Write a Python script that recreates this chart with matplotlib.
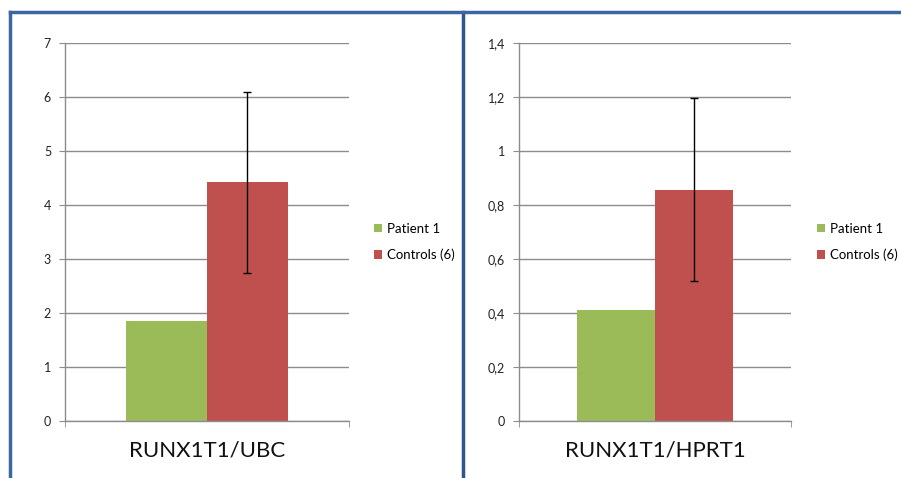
import matplotlib.pyplot as plt
from matplotlib.lines import Line2D

plt.rcParams['font.family'] = ['Lato', 'DejaVu Sans']

# values
panels = ['RUNX1T1/UBC', 'RUNX1T1/HPRT1']
patient1 = [1.85, 0.41]
controls = [4.42, 0.857]
controls_err = [1.68, 0.34]
ytick_values = [[0, 1, 2, 3, 4, 5, 6, 7],
                [0, 0.2, 0.4, 0.6, 0.8, 1.0, 1.2, 1.4]]
ytick_labels = [['0', '1', '2', '3', '4', '5', '6', '7'],
                ['0', '0,2', '0,4', '0,6', '0,8', '1', '1,2', '1,4']]
series_names = ['Patient 1', 'Controls (6)']

green = '#9BBB59'
red = '#C0504D'
gridc = '#8c8c8c'
border = '#3b66a3'

fig = plt.figure(figsize=(9.01, 4.78), dpi=100)

W, H = 901.0, 478.0
axes_px = [(65, 349), (519, 791)]
legend_px = [369, 812]

for i in range(2):
    x0, x1 = axes_px[i]
    ax = fig.add_axes([x0 / W, 1 - 421 / H, (x1 - x0) / W, (421 - 43) / H])
    bw = 0.285
    ax.bar(0.5 - bw / 2, patient1[i], width=bw, color=green, label=series_names[0], zorder=2)
    ax.bar(0.5 + bw / 2, controls[i], width=bw, color=red, label=series_names[1], zorder=2)
    ax.errorbar(0.5 + bw / 2, controls[i], yerr=controls_err[i], fmt='none',
                ecolor='black', elinewidth=1, capsize=3, capthick=1, zorder=3)
    ax.set_xlim(0, 1)
    ax.set_ylim(0, ytick_values[i][-1])
    ax.set_yticks(ytick_values[i])
    ax.set_yticklabels(ytick_labels[i], fontsize=9, color='#222222')
    ax.set_xticks([0.5])
    ax.set_xticklabels([panels[i]], fontsize=16, color='#111111')
    ax.set_xticks([0, 1], minor=True)
    ax.tick_params(axis='x', which='major', length=0, pad=14)
    ax.tick_params(axis='x', which='minor', length=4, color=gridc)
    ax.tick_params(axis='y', length=4, color=gridc, pad=6)
    ax.grid(axis='y', color=gridc, linewidth=1, zorder=0)
    ax.set_axisbelow(True)
    for s in ['top', 'right']:
        ax.spines[s].set_visible(False)
    for s in ['left', 'bottom']:
        ax.spines[s].set_color(gridc)
        ax.spines[s].set_linewidth(1)
    h, l = ax.get_legend_handles_labels()
    fig.legend(h, l, loc='center left', bbox_to_anchor=(legend_px[i] / W, 1 - 242 / H),
               frameon=False, fontsize=9.5, handlelength=0.6, handleheight=0.6,
               handletextpad=0.35, labelspacing=1.05, borderaxespad=0)

# panel frames
lw = 2.5
fig.add_artist(Line2D([10 / W, 10 / W], [0, 1 - 12 / H], color=border, lw=lw))
fig.add_artist(Line2D([462.5 / W, 462.5 / W], [0, 1 - 12 / H], color='#2d5590', lw=lw))
fig.add_artist(Line2D([10 / W, 1], [1 - 12 / H, 1 - 12 / H], color=border, lw=lw))

fig.savefig('out.png', dpi=100)
